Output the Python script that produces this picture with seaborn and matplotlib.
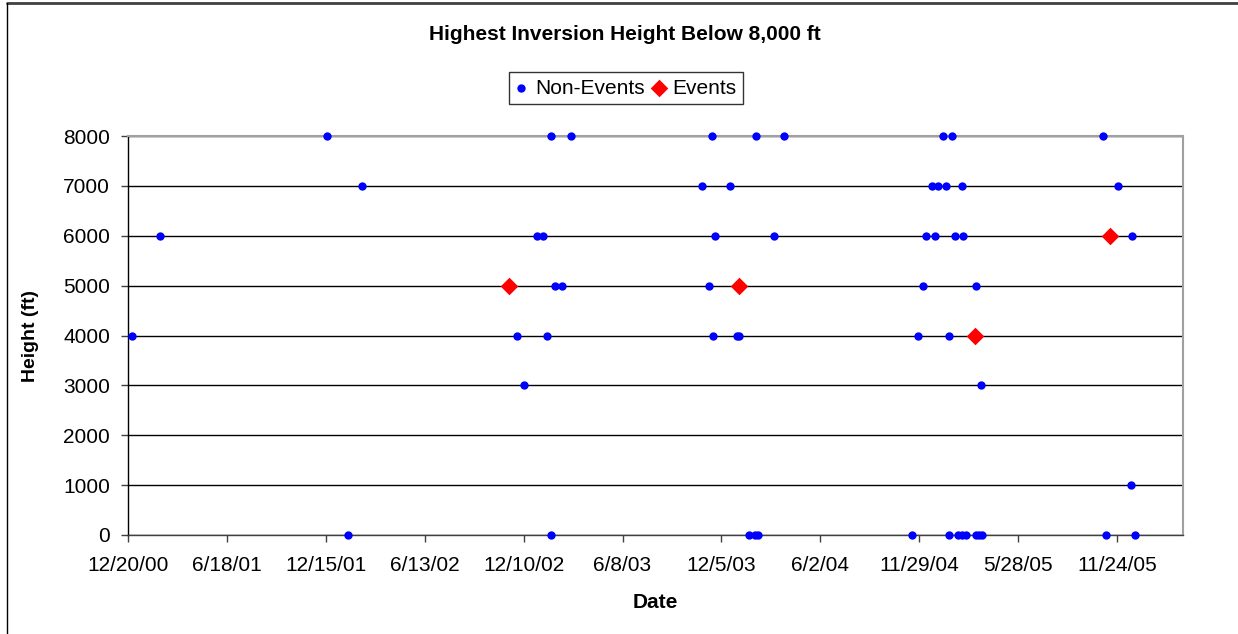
"""Highest inversion height below 8,000 ft: events vs non-events."""
import pandas as pd
import seaborn as sns
import matplotlib.pyplot as plt
from matplotlib.lines import Line2D

# non-event soundings (date, highest inversion height in ft)
NON_EVENT_DATES = [
    "2000-12-28", "2001-02-16", "2001-12-17", "2002-01-24", "2002-02-19",
    "2002-11-28", "2002-12-10", "2003-01-03", "2003-01-15", "2003-01-21",
    "2003-01-29", "2003-01-29", "2003-02-05", "2003-02-18", "2003-03-06",
    "2003-10-31", "2003-11-12", "2003-11-17", "2003-11-19", "2003-11-23",
    "2003-12-20", "2004-01-02", "2004-01-06", "2004-01-25", "2004-02-04",
    "2004-02-05", "2004-02-10", "2004-03-10", "2004-03-27",
    "2004-11-16", "2004-11-27", "2004-12-05", "2004-12-12", "2004-12-22",
    "2004-12-27", "2005-01-03", "2005-01-12", "2005-01-17", "2005-01-22",
    "2005-01-22", "2005-01-28", "2005-02-02", "2005-02-08", "2005-02-15",
    "2005-02-15", "2005-02-17", "2005-02-22", "2005-03-12", "2005-03-12",
    "2005-03-18", "2005-03-22", "2005-03-24",
    "2005-10-30", "2005-11-04", "2005-11-26", "2005-12-19", "2005-12-22",
    "2005-12-27",
]
NON_EVENT_HEIGHTS = [
    4000, 6000, 8000, 0, 7000,
    4000, 3000, 6000, 6000, 4000,
    8000, 0, 5000, 5000, 8000,
    7000, 5000, 8000, 4000, 6000,
    7000, 4000, 4000, 0, 0,
    8000, 0, 6000, 8000,
    0, 4000, 5000, 6000, 7000,
    6000, 7000, 8000, 7000, 4000,
    0, 8000, 6000, 0, 0,
    7000, 6000, 0, 5000, 0,
    0, 3000, 0,
    8000, 0, 7000, 1000, 6000,
    0,
]

EVENT_DATES = ["2002-11-13", "2004-01-06", "2005-03-11", "2005-11-12"]
EVENT_HEIGHTS = [5000, 5000, 4000, 6000]

X_TICK_LABELS = ["12/20/00", "6/18/01", "12/15/01", "6/13/02", "12/10/02", "6/8/03",
                 "12/5/03", "6/2/04", "11/29/04", "5/28/05", "11/24/05"]
Y_TICKS = [0, 1000, 2000, 3000, 4000, 5000, 6000, 7000, 8000]


def main() -> None:
    non_events = pd.DataFrame({"date": pd.to_datetime(NON_EVENT_DATES), "height": NON_EVENT_HEIGHTS})
    events = pd.DataFrame({"date": pd.to_datetime(EVENT_DATES), "height": EVENT_HEIGHTS})

    sns.set_theme(style="white")
    plt.rcParams["font.family"] = ["Liberation Sans", "DejaVu Sans"]
    plt.rcParams["text.color"] = "black"
    plt.rcParams["axes.labelcolor"] = "black"
    plt.rcParams["xtick.color"] = "black"
    plt.rcParams["ytick.color"] = "black"

    W, H = 1238, 634
    fig = plt.figure(figsize=(W / 100, H / 100), dpi=100)
    ax = fig.add_axes([128 / W, 1 - 535 / H, (1183 - 128) / W, (535 - 136) / H])

    sns.scatterplot(data=non_events, x="date", y="height", color="#0000ff", marker="o",
                    s=36, linewidth=0, label="Non-Events", clip_on=False, zorder=3, ax=ax)
    sns.scatterplot(data=events, x="date", y="height", color="#ff0000", marker="D",
                    s=80, linewidth=0, label="Events", clip_on=False, zorder=4, ax=ax)

    ticks = pd.to_datetime(X_TICK_LABELS, format="%m/%d/%y")
    ax.set_xlim(pd.Timestamp("2000-12-20"), pd.Timestamp("2006-03-24"))
    ax.set_xticks(ticks)
    ax.set_xticklabels(X_TICK_LABELS)
    ax.set_ylim(0, 8000)
    ax.set_yticks(Y_TICKS)
    ax.set_yticklabels([str(v) for v in Y_TICKS])

    ax.yaxis.grid(True, color="black", linewidth=1)
    ax.xaxis.grid(False)
    ax.set_axisbelow(True)
    for side in ["top", "right"]:
        ax.spines[side].set_color("#a0a0a0")
        ax.spines[side].set_linewidth(1.5)
    ax.spines["left"].set_color("black")
    ax.spines["bottom"].set_color("#404040")
    for side in ["left", "bottom"]:
        ax.spines[side].set_linewidth(1)
    ax.tick_params(axis="both", direction="out", length=5, width=1, color="#404040",
                   labelcolor="black", labelsize=15, bottom=True, left=True)
    ax.tick_params(axis="x", pad=10)
    ax.tick_params(axis="y", pad=8)

    ax.set_xlabel("Date", fontsize=15, fontweight="bold")
    ax.xaxis.set_label_coords(0.5, -0.145)
    ax.xaxis.label.set_va("top")
    ax.set_ylabel("Height (ft)", fontsize=14, fontweight="bold")
    ax.yaxis.set_label_coords(-0.084, 0.5)

    fig.text(625 / W, 1 - 35 / H, "Highest Inversion Height Below 8,000 ft",
             ha="center", va="center", fontsize=15, fontweight="bold")

    ax.legend(loc="center", bbox_to_anchor=(626 / W, 1 - 88 / H), bbox_transform=fig.transFigure,
              ncol=2, fontsize=15, frameon=True, fancybox=False, edgecolor="black",
              handlelength=0.6, handletextpad=0.35, columnspacing=0.4, borderpad=0.3,
              markerscale=1.0)
    ax.get_legend().get_frame().set_linewidth(1)

    # chart area border (top and left edges visible in the reference)
    fig.add_artist(Line2D([7 / W, 1], [1 - 3 / H, 1 - 3 / H], transform=fig.transFigure,
                          color="#404040", linewidth=2))
    fig.add_artist(Line2D([7 / W, 7 / W], [0, 1 - 3 / H], transform=fig.transFigure,
                          color="black", linewidth=1))

    fig.savefig("out.png", dpi=100)
    plt.close(fig)


if __name__ == "__main__":
    main()
